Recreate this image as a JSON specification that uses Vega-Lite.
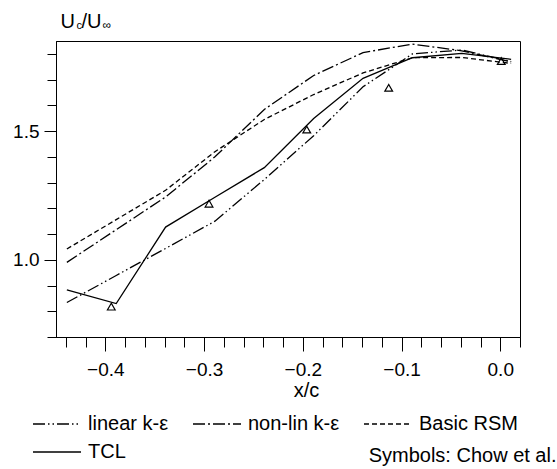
{
  "$schema": "https://vega.github.io/schema/vega-lite/v6.json",
  "autosize": {"type": "none"},
  "padding": {"left": 56, "top": 41, "right": 37, "bottom": 132},
  "width": 464,
  "height": 296,
  "background": "white",
  "config": {
    "font": "Liberation Sans",
    "view": {"stroke": "black", "strokeWidth": 1},
    "axis": {
      "domainColor": "black", "domainWidth": 1,
      "tickColor": "black", "tickWidth": 1,
      "labelColor": "black", "labelFont": "Liberation Sans", "labelFontSize": 19,
      "titleColor": "black", "titleFont": "Liberation Sans", "titleFontWeight": "normal",
      "grid": false
    },
    "legend": {
      "labelFont": "Liberation Sans", "labelFontSize": 20, "labelColor": "black"
    }
  },
  "resolve": {"axis": {"x": "independent", "y": "independent"}},
  "layer": [
    {
      "data": {"values": [
        {"model": "linear k-ε", "x": -0.439, "y": 0.834},
        {"model": "linear k-ε", "x": -0.389, "y": 0.939},
        {"model": "linear k-ε", "x": -0.339, "y": 1.044},
        {"model": "linear k-ε", "x": -0.289, "y": 1.150},
        {"model": "linear k-ε", "x": -0.239, "y": 1.312},
        {"model": "linear k-ε", "x": -0.189, "y": 1.482},
        {"model": "linear k-ε", "x": -0.139, "y": 1.672},
        {"model": "linear k-ε", "x": -0.089, "y": 1.800},
        {"model": "linear k-ε", "x": -0.039, "y": 1.815},
        {"model": "linear k-ε", "x": 0.011, "y": 1.770},
        {"model": "non-lin k-ε", "x": -0.439, "y": 0.990},
        {"model": "non-lin k-ε", "x": -0.389, "y": 1.117},
        {"model": "non-lin k-ε", "x": -0.339, "y": 1.244},
        {"model": "non-lin k-ε", "x": -0.289, "y": 1.400},
        {"model": "non-lin k-ε", "x": -0.239, "y": 1.584},
        {"model": "non-lin k-ε", "x": -0.189, "y": 1.716},
        {"model": "non-lin k-ε", "x": -0.139, "y": 1.805},
        {"model": "non-lin k-ε", "x": -0.089, "y": 1.838},
        {"model": "non-lin k-ε", "x": -0.039, "y": 1.812},
        {"model": "non-lin k-ε", "x": 0.011, "y": 1.769},
        {"model": "Basic RSM", "x": -0.439, "y": 1.042},
        {"model": "Basic RSM", "x": -0.389, "y": 1.156},
        {"model": "Basic RSM", "x": -0.339, "y": 1.270},
        {"model": "Basic RSM", "x": -0.289, "y": 1.420},
        {"model": "Basic RSM", "x": -0.239, "y": 1.545},
        {"model": "Basic RSM", "x": -0.189, "y": 1.642},
        {"model": "Basic RSM", "x": -0.139, "y": 1.726},
        {"model": "Basic RSM", "x": -0.089, "y": 1.785},
        {"model": "Basic RSM", "x": -0.039, "y": 1.786},
        {"model": "Basic RSM", "x": 0.011, "y": 1.763}
      ]},
      "mark": {"type": "line", "color": "black", "strokeWidth": 1.3},
      "encoding": {
        "x": {
          "field": "x", "type": "quantitative",
          "scale": {"domain": [-0.45, 0.02], "nice": false, "zero": false},
          "axis": {
            "orient": "bottom",
            "values": [-0.4, -0.3, -0.2, -0.1, 0.0],
            "format": ".1f",
            "tickSize": 14, "labelPadding": 9,
            "title": "x/c", "titleFontSize": 20,
            "titleX": 250, "titleY": 59, "titleAlign": "center", "titleBaseline": "alphabetic"
          }
        },
        "y": {
          "field": "y", "type": "quantitative",
          "scale": {"domain": [0.7, 1.85], "nice": false, "zero": false},
          "axis": {
            "orient": "left",
            "values": [1.0, 1.5],
            "format": ".1f",
            "tickSize": 12, "labelPadding": 5,
            "title": "U", "titleFontSize": 20, "titleAngle": 0,
            "titleX": 4, "titleY": -14, "titleAlign": "left", "titleBaseline": "alphabetic"
          }
        },
        "strokeDash": {
          "field": "model", "type": "nominal",
          "scale": {
            "domain": ["linear k-ε", "non-lin k-ε", "Basic RSM"],
            "range": [[12, 3, 1.5, 3, 1.5, 3], [12, 3, 2, 3], [5, 3]]
          },
          "legend": {
            "orient": "none", "legendX": -24, "legendY": 358,
            "direction": "horizontal",
            "title": null, "columns": 3, "columnPadding": 21,
            "symbolType": "stroke", "symbolSize": 2304, "symbolStrokeWidth": 1.3,
            "symbolStrokeColor": "black", "labelOffset": 6, "padding": 0
          }
        }
      }
    },
    {
      "data": {"values": [
        {"model": "TCL", "x": -0.439, "y": 0.883},
        {"model": "TCL", "x": -0.389, "y": 0.830},
        {"model": "TCL", "x": -0.339, "y": 1.127},
        {"model": "TCL", "x": -0.289, "y": 1.243},
        {"model": "TCL", "x": -0.239, "y": 1.358},
        {"model": "TCL", "x": -0.189, "y": 1.549},
        {"model": "TCL", "x": -0.139, "y": 1.705},
        {"model": "TCL", "x": -0.089, "y": 1.785},
        {"model": "TCL", "x": -0.039, "y": 1.802},
        {"model": "TCL", "x": 0.011, "y": 1.779}
      ]},
      "mark": {"type": "line", "strokeWidth": 1.3},
      "encoding": {
        "x": {
          "field": "x", "type": "quantitative",
          "axis": {
            "orient": "top", "domain": false, "ticks": false, "labels": false,
            "title": "∞", "titleFontSize": 12,
            "titleX": 46, "titleY": -12.5, "titleAlign": "left", "titleBaseline": "alphabetic"
          }
        },
        "y": {
          "field": "y", "type": "quantitative",
          "axis": {
            "orient": "left", "domain": false, "ticks": false, "labels": false,
            "title": "/U", "titleFontSize": 20, "titleAngle": 0,
            "titleX": 25, "titleY": -14, "titleAlign": "left", "titleBaseline": "alphabetic"
          }
        },
        "color": {
          "field": "model", "type": "nominal",
          "scale": {"domain": ["TCL"], "range": ["black"]},
          "legend": {
            "orient": "none", "legendX": -24, "legendY": 386,
            "title": null,
            "symbolType": "stroke", "symbolSize": 2304, "symbolStrokeWidth": 1.3,
            "labelOffset": 6, "padding": 0
          }
        }
      }
    },
    {
      "data": {"values": [
        {"x": -0.394, "y": 0.818},
        {"x": -0.295, "y": 1.218},
        {"x": -0.196, "y": 1.506},
        {"x": -0.113, "y": 1.668},
        {"x": 0.001, "y": 1.772}
      ]},
      "mark": {"type": "point", "shape": "triangle-up", "size": 60, "filled": false, "color": "black", "strokeWidth": 1.2, "opacity": 1},
      "encoding": {
        "x": {
          "field": "x", "type": "quantitative",
          "axis": {
            "orient": "bottom",
            "values": [-0.44, -0.42, -0.4, -0.38, -0.36, -0.34, -0.32, -0.3, -0.28, -0.26, -0.24, -0.22, -0.2, -0.18, -0.16, -0.14, -0.12, -0.1, -0.08, -0.06, -0.04, -0.02, 0.0, 0.02],
            "labels": false, "tickSize": 10,
            "title": "Symbols: Chow et al.", "titleFontSize": 20,
            "titleX": 500, "titleY": 124, "titleAlign": "right", "titleBaseline": "alphabetic"
          }
        },
        "y": {
          "field": "y", "type": "quantitative",
          "axis": {
            "orient": "left",
            "values": [0.7, 0.8, 0.9, 1.0, 1.1, 1.2, 1.3, 1.4, 1.5, 1.6, 1.7, 1.8],
            "labels": false, "tickSize": 9,
            "title": "c", "titleFontSize": 11, "titleAngle": 0,
            "titleX": 20, "titleY": -12.5, "titleAlign": "left", "titleBaseline": "alphabetic"
          }
        }
      }
    }
  ]
}
